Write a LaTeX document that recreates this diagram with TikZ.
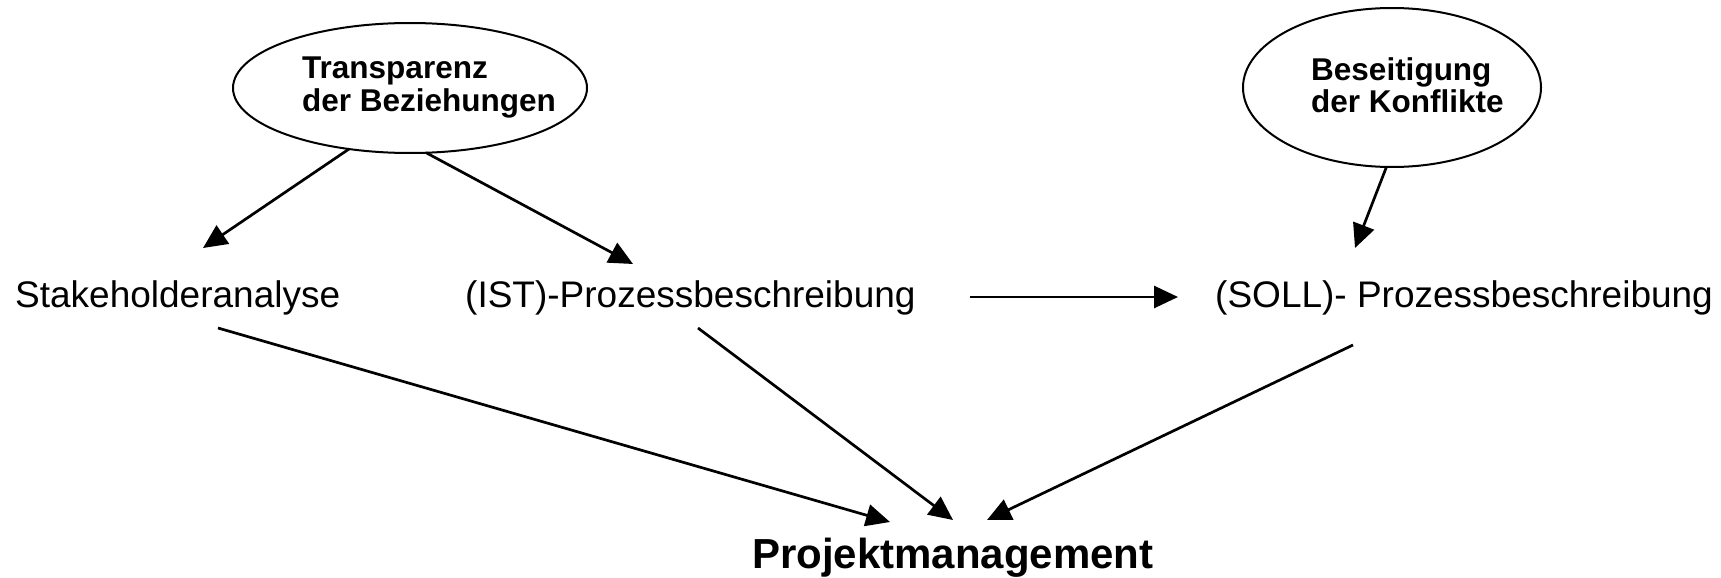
\documentclass[tikz,border=0pt]{standalone}
\usepackage{fontspec}
\setmainfont{Liberation Sans}
\usetikzlibrary{arrows.meta,shapes.geometric}
\begin{document}
\begin{tikzpicture}[x=1pt,y=-1pt,
  conn/.style={line width=2.7pt,-{Triangle[length=24pt,width=22pt]}},
  bubble/.style={draw,ellipse,line width=2pt,inner sep=0pt,outer sep=0pt},
  bubbletext/.style={font=\fontsize{31.5}{32.5}\selectfont\bfseries,align=left,inner sep=0pt,anchor=north west},
  plain/.style={font=\fontsize{37}{44}\selectfont,inner sep=0pt,anchor=base west},
  target/.style={font=\fontsize{42}{50}\selectfont\bfseries,inner sep=0pt,anchor=base west}]
\useasboundingbox (0,0) rectangle (1721,578);
% ellipses
\node[bubble,minimum width=354pt,minimum height=130pt] (e1) at (410,88) {};
\node[bubble,minimum width=298pt,minimum height=159pt] (e2) at (1392,87.5) {};
\node[bubbletext] (t1) at (302,57) {Transparenz\\der Beziehungen};
\node[bubbletext] (t2) at (1311,57) {Beseitigung\\der Konflikte};
% row texts
\node[plain] (sa) at (15,307) {Stakeholderanalyse};
\node[plain] (ist) at (465,307) {(IST)-Prozessbeschreibung};
\node[plain] (soll) at (1215,307) {(SOLL)- Prozessbeschreibung};
\node[target] (pm) at (752,568) {Projektmanagement};
% connector ends
\coordinate (saIn) at (203,248);
\coordinate (istIn) at (633,264);
\coordinate (sollIn) at (1355,248);
\coordinate (istOut) at (970,297);
\coordinate (sollInL) at (1178,297);
\coordinate (saOut) at (218,328);
\coordinate (istOutB) at (698,328);
\coordinate (sollOutB) at (1353,345);
\coordinate (pmA) at (890,522);
\coordinate (pmB) at (953,520);
\coordinate (pmC) at (987,520);
% connectors
\draw[conn] (e1.225.4) -- (saIn);
\draw[conn] (e1.284.7) -- (istIn);
\draw[conn] (e2.266.4) -- (sollIn);
\draw[conn] (istOut) -- (sollInL);
\draw[conn] (saOut) -- (pmA);
\draw[conn] (istOutB) -- (pmB);
\draw[conn] (sollOutB) -- (pmC);
\end{tikzpicture}
\end{document}
